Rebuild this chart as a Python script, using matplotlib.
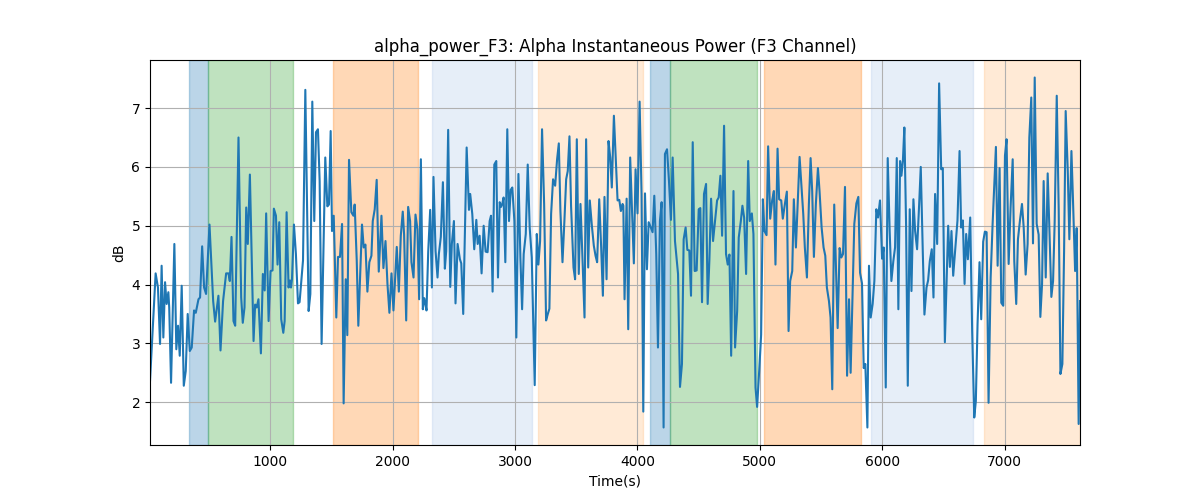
import matplotlib
matplotlib.use("Agg")
import matplotlib.pyplot as plt

times = [18, 64, 83, 100, 113, 127, 141, 154, 168, 175, 190, 217, 233, 247, 261, 277, 294, 310, 326, 343,
         359, 378, 392, 414, 427, 444, 460, 476, 504, 534, 550, 577, 594, 615, 640, 659, 670, 684, 700, 714,
         741, 763, 776, 790, 804, 817, 834, 864, 877, 890, 904, 924, 940, 955, 967,
         987, 1003, 1019, 1030, 1047, 1060, 1074, 1090, 1107, 1118, 1134, 1150, 1162, 1170, 1178, 1194, 1210,
         1227, 1240, 1268, 1287, 1314, 1328, 1344, 1360, 1374, 1390, 1404, 1420, 1450, 1467, 1480, 1494, 1505,
         1519, 1540, 1554, 1570, 1587, 1600, 1617, 1630, 1644, 1663, 1680, 1690, 1707, 1720, 1750, 1764, 1778,
         1794, 1810, 1827, 1838, 1854, 1870, 1887, 1909,
         1925, 1942, 1958, 1974, 1991, 2007, 2034, 2051, 2067, 2083, 2094, 2111, 2127, 2143, 2154, 2171, 2187,
         2203, 2217, 2231, 2247, 2258, 2266, 2277, 2291, 2307, 2321, 2334, 2351, 2367, 2378, 2394, 2411, 2427,
         2438, 2454, 2471, 2484, 2501, 2514, 2531, 2550, 2561, 2577, 2605, 2624, 2634, 2651, 2667, 2684, 2695,
         2711, 2727, 2744, 2760, 2776, 2793, 2804, 2817, 2831, 2847, 2861, 2875, 2886, 2897, 2907, 2921, 2937,
         2951, 2965, 2978, 2995, 3011, 3028, 3044, 3058, 3071, 3088, 3104, 3120, 3137, 3161, 3178, 3191, 3205,
         3221, 3238, 3254, 3268, 3281, 3295, 3311, 3328, 3344, 3358, 3371, 3388, 3404, 3418, 3431, 3445, 3458,
         3478, 3491, 3505, 3521, 3535, 3551, 3568, 3581, 3598, 3611, 3628, 3644, 3658, 3671, 3688, 3704, 3718,
         3731, 3748, 3764, 3778, 3791, 3808,
         3838, 3852, 3865, 3879, 3885, 3895, 3912, 3925, 3941, 3958, 3971, 3985, 4001, 4018, 4034, 4048, 4062,
         4078, 4092, 4108, 4124, 4138, 4154, 4168, 4184, 4198, 4214, 4225, 4242, 4258, 4274, 4288, 4307, 4332,
         4348, 4364, 4378, 4394, 4408, 4424, 4438, 4452, 4468, 4484, 4501, 4514, 4528, 4544, 4561, 4574, 4588,
         4602, 4618, 4634, 4651, 4664, 4678, 4692, 4708, 4724, 4738, 4752, 4766, 4785, 4798, 4815, 4828, 4845,
         4858, 4872, 4888, 4905, 4918, 4935, 4948, 4965, 4978, 4995, 5011, 5025, 5038, 5055, 5068, 5085, 5101,
         5115, 5128, 5145, 5158, 5175, 5188, 5205, 5221, 5235, 5248, 5265, 5278, 5295, 5308, 5325, 5341, 5355,
         5368, 5385, 5401, 5415, 5428, 5442, 5458, 5475, 5488, 5505, 5521, 5535, 5548, 5565, 5578, 5592, 5608,
         5622, 5636, 5652, 5666, 5680, 5696, 5713, 5729, 5742, 5772, 5789, 5805, 5819, 5835, 5849, 5862, 5879,
         5892, 5906, 5922, 5936, 5952, 5966, 5982, 5999, 6012, 6029, 6045, 6061, 6075, 6091, 6105, 6119, 6132,
         6146, 6157, 6169, 6181, 6195, 6209, 6225, 6239, 6255, 6269, 6285, 6302, 6315, 6332, 6345, 6362, 6375,
         6389, 6405, 6419, 6432, 6449, 6465, 6482, 6495, 6512, 6539, 6553, 6566, 6580, 6596, 6615, 6632, 6645,
         6659, 6673, 6686, 6700, 6719, 6735, 6752, 6765, 6779, 6795, 6809, 6825, 6839, 6853, 6869, 6886, 6902,
         6916, 6929, 6943, 6959, 6973, 6989, 7003, 7016, 7033, 7049, 7066, 7079, 7095, 7109, 7126, 7142, 7156,
         7172, 7188, 7202, 7218, 7232, 7246, 7262, 7278, 7292, 7306, 7319, 7336, 7352, 7366, 7382, 7396, 7409,
         7426, 7442, 7456, 7472, 7486, 7499, 7516, 7529, 7546, 7559, 7576, 7589, 7605, 7616]

values = [2.36, 4.19, 3.95, 2.99, 4.32, 3.10, 4.04, 3.67, 3.87, 3.61, 2.33, 4.69, 2.90, 3.30, 2.79, 3.98, 2.28, 2.53, 3.50, 2.87,
          2.93, 3.56, 3.52, 3.75, 3.78, 4.65, 3.95, 3.84, 5.02, 3.72, 3.37, 3.81, 2.88, 3.72, 4.19, 4.19, 4.06, 4.81, 3.38, 3.30,
          6.50, 3.78, 3.35, 3.61, 5.31, 4.69, 5.87, 3.04, 3.66, 3.61, 3.75, 2.83, 4.18, 3.90, 5.21,
          3.38, 4.23, 4.24, 5.29, 5.17, 4.34, 5.06, 3.41, 3.18, 3.38, 5.23, 3.95, 4.07, 3.95, 4.09, 5.02, 4.52,
          3.68, 3.70, 4.41, 7.31, 3.55, 3.84, 7.11, 5.08, 6.59, 6.64, 5.76, 2.99, 6.16, 5.33, 5.36, 6.61, 4.91,
          5.17, 3.44, 4.47, 4.47, 5.03, 1.98, 4.09, 3.14, 6.12, 5.23, 5.17, 5.36, 4.41, 3.30, 5.02, 4.63, 4.68,
          3.88, 4.38, 4.49, 5.08, 5.28, 5.78, 4.22, 5.17,
          4.28, 4.74, 4.01, 3.52, 4.19, 3.56, 4.64, 3.88, 4.83, 5.24, 4.85, 3.39, 5.32, 5.08, 4.38, 4.12, 5.19,
          4.94, 3.75, 6.13, 3.58, 3.77, 3.70, 3.56, 4.56, 5.27, 3.95, 5.83, 4.57, 4.12, 4.52, 4.81, 5.74, 4.27,
          4.57, 6.63, 3.96, 4.69, 5.08, 3.68, 4.69, 4.43, 4.36, 3.50, 6.33, 5.27, 5.54, 5.20, 4.60, 5.10, 4.69,
          4.83, 4.19, 5.00, 4.56, 4.55, 5.08, 5.17, 3.88, 6.04, 6.10, 4.12, 5.40, 5.32, 5.38, 5.48, 4.38, 6.64,
          5.08, 5.61, 5.65, 5.08, 3.10, 5.88, 4.46, 3.58, 4.52, 4.86, 6.04, 4.97, 4.46, 2.29, 4.86, 4.34, 4.74,
          6.64, 5.37, 3.39, 3.50, 3.59, 5.20, 5.79, 5.68, 6.13, 6.40, 5.25, 4.38, 5.10, 5.79, 5.93, 6.52, 5.34,
          4.29, 4.09, 6.47, 4.18, 5.37, 4.46, 3.44, 6.47, 4.29, 5.43, 5.00, 4.66, 4.49, 4.38, 5.45, 4.63, 3.81,
          5.49, 4.09, 6.44, 6.16, 5.65, 6.87,
          5.43, 5.44, 5.25, 5.37, 5.34, 3.75, 5.46, 3.24, 6.16, 5.14, 4.36, 5.96, 5.21, 7.11, 5.54, 1.84, 5.55,
          4.26, 5.06, 4.98, 4.89, 5.51, 4.52, 2.93, 5.08, 5.40, 1.57, 6.22, 6.30, 5.76, 5.10, 6.16, 4.74, 4.18,
          2.26, 2.65, 4.77, 4.97, 4.59, 4.58, 3.81, 6.42, 4.23, 4.24, 5.28, 5.30, 3.70, 5.54, 5.71, 3.67, 4.41,
          5.46, 4.74, 5.08, 5.43, 5.48, 5.85, 4.83, 6.70, 4.52, 4.34, 4.51, 2.79, 5.59, 2.93, 3.55, 4.80, 5.08,
          5.34, 5.14, 4.18, 6.10, 5.08, 5.21, 4.86, 2.25, 1.92, 2.53, 3.15, 5.45, 4.91, 4.84, 6.35, 5.12, 5.43,
          5.59, 4.34, 6.31, 5.45, 5.43, 5.12, 5.37, 5.58, 3.21, 4.06, 4.23, 5.45, 4.63, 5.31, 6.17, 5.65, 5.20,
          4.63, 4.12, 5.37, 6.15, 5.59, 4.47, 5.37, 5.98, 5.59, 4.97, 4.63, 4.49, 3.95, 3.72, 3.44, 2.22, 5.36,
          4.34, 3.26, 4.62, 4.46, 4.52, 5.66, 2.45, 3.75, 2.50, 5.03, 5.38, 5.49, 4.20, 4.02, 2.58, 2.65, 1.57,
          4.32, 3.44, 3.67, 4.06, 5.28, 5.14, 5.43, 4.44, 4.63, 2.25, 6.15, 4.91, 4.06, 4.40, 4.63, 6.15, 3.58,
          6.10, 5.85, 6.10, 6.67, 5.03, 2.28, 5.28, 3.89, 5.45, 4.91, 4.60, 5.37, 6.00, 4.52, 3.49, 3.95, 4.07,
          4.40, 4.60, 3.78, 5.54, 4.69, 7.42, 5.96, 5.98, 3.02, 5.00, 4.30, 4.91, 4.15, 4.59, 5.09, 6.27, 4.97,
          5.09, 4.01, 4.86, 4.43, 5.14, 3.21, 1.74, 2.02, 3.33, 4.38, 3.41, 4.73, 4.90, 4.89, 1.99, 4.12, 5.03,
          5.71, 6.34, 4.32, 5.98, 3.69, 3.64, 6.19, 6.47, 4.35, 5.31, 6.13, 4.40, 3.67, 4.77, 5.10, 5.37, 4.97,
          4.17, 4.69, 6.50, 7.18, 4.70, 7.52, 5.03, 4.85, 3.45, 4.01, 5.76, 4.12, 5.89, 4.94, 3.79, 4.06, 5.06,
          7.21, 5.28, 2.48, 2.65, 4.57, 6.95, 5.93, 4.77, 6.27, 5.42, 4.23, 4.96, 1.63, 3.72]

span_starts = [337, 495, 1516, 2318, 3186, 4103, 4267, 5036, 5911, 6828]
span_ends = [495, 1186, 2209, 3137, 4043, 4267, 4976, 5830, 6744, 7616]
span_colors = ['#1f77b4', '#2ca02c', '#ff7f0e', '#aec7e8', '#ffbb78',
               '#1f77b4', '#2ca02c', '#ff7f0e', '#aec7e8', '#ffbb78']

fig, ax = plt.subplots(figsize=(12, 5), dpi=100)
for s, e, c in zip(span_starts, span_ends, span_colors):
    ax.axvspan(s, e, color=c, alpha=0.3)
ax.plot(times, values, color='#1f77b4', linewidth=1.5)
ax.set_xlim(times[0], times[-1])
ax.grid(True)
ax.set_title("alpha_power_F3: Alpha Instantaneous Power (F3 Channel)")
ax.set_xlabel("Time(s)")
ax.set_ylabel("dB")
fig.savefig("out.png", dpi=100)
